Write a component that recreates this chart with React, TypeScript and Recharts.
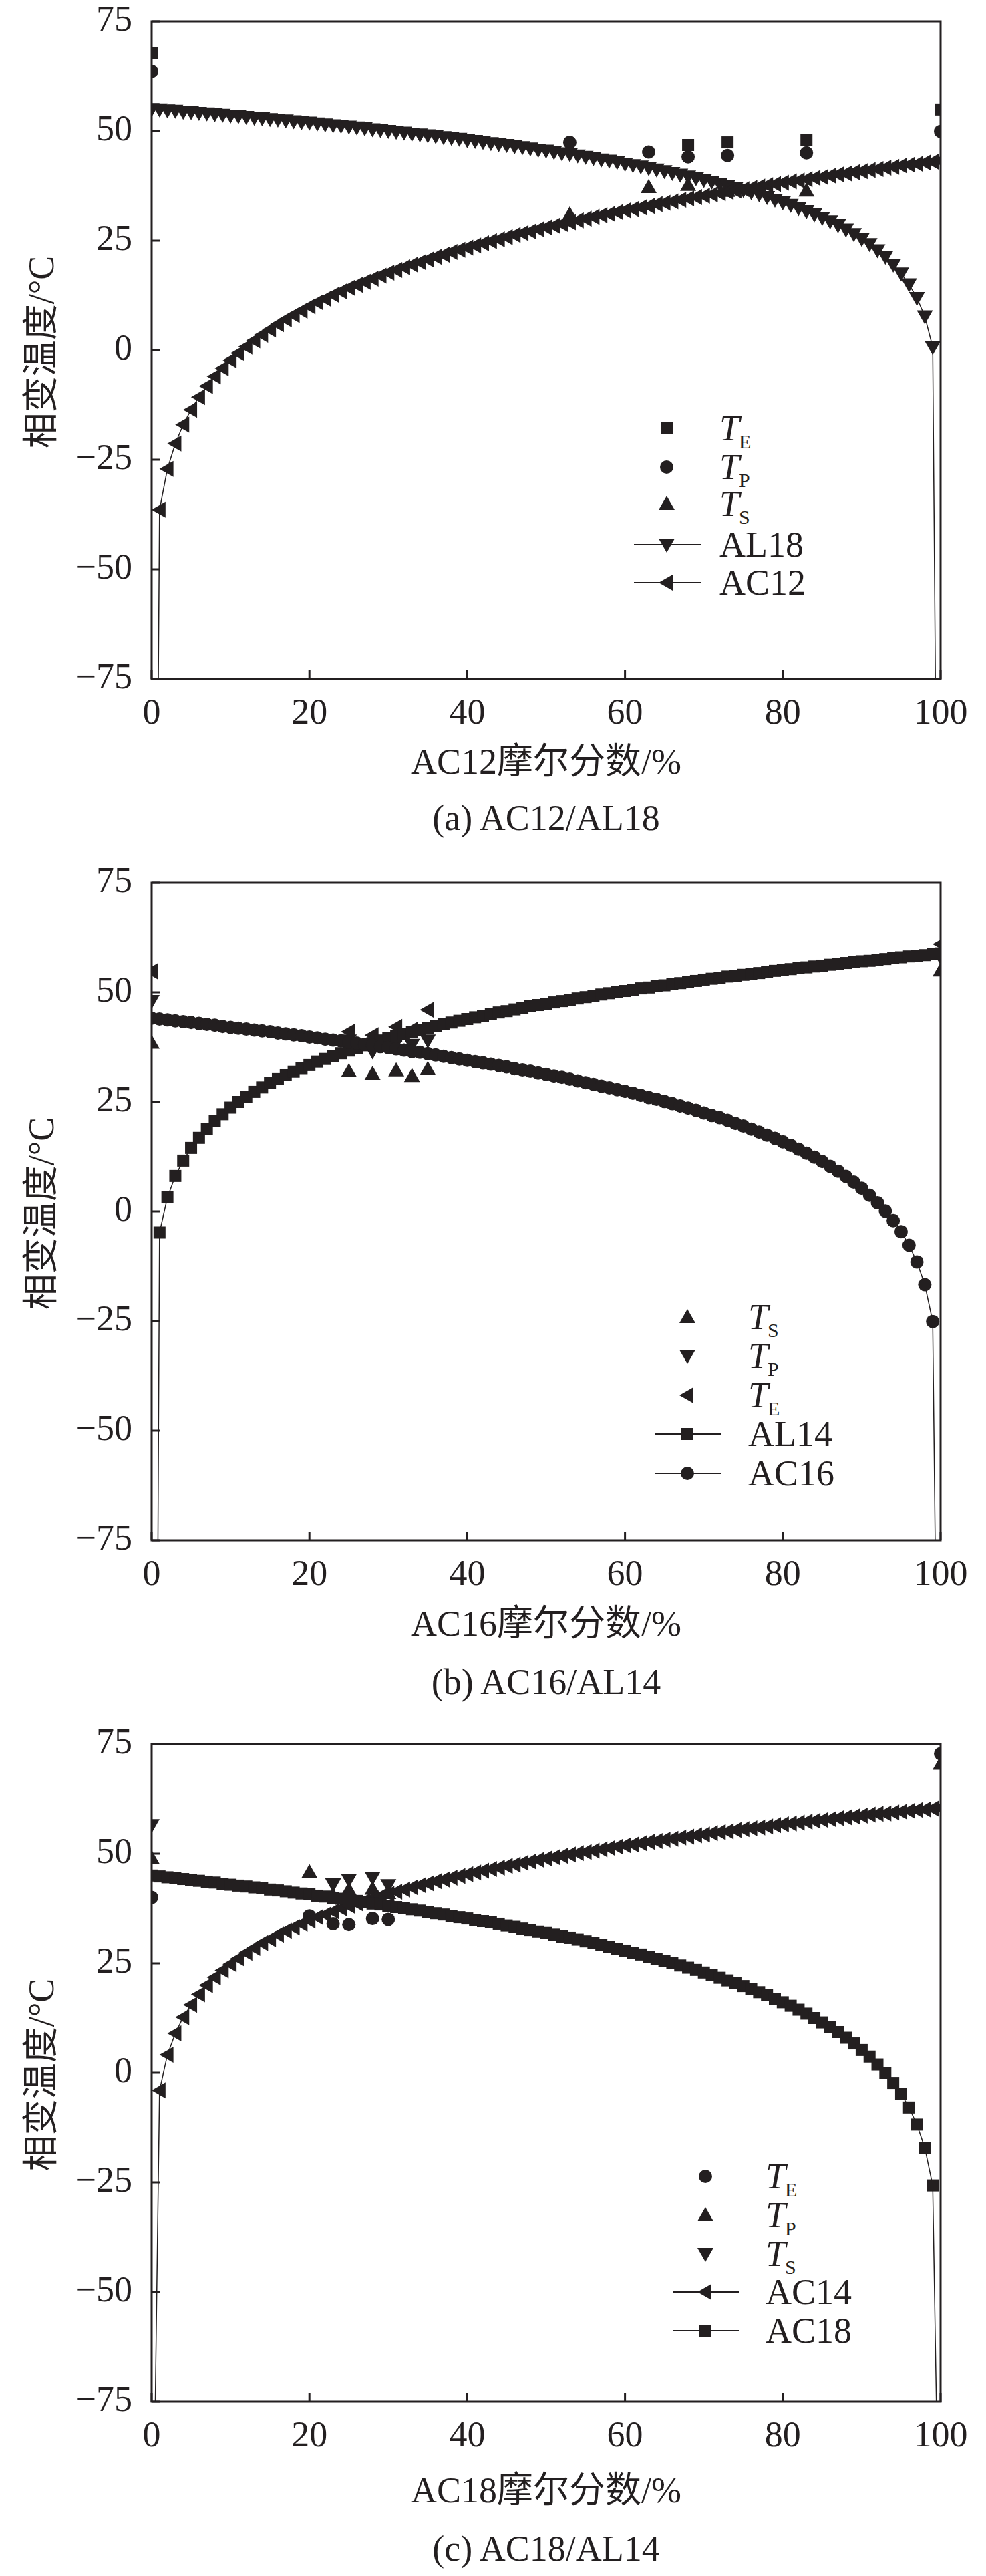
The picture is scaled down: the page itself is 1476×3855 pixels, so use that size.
import React from "react";
import {
  ComposedChart,
  Line,
  Scatter,
  XAxis,
  YAxis,
  ReferenceArea,
  Legend,
} from "recharts";

const INK = "#231f20";
const FONT =
  '"Liberation Serif", "Times New Roman", "Noto Sans CJK SC", serif';

// mole fraction grid, one marker per percent
const PCT = [
  0, 1, 2, 3, 4, 5, 6, 7, 8, 9, 10, 11, 12, 13, 14, 15, 16, 17, 18, 19, 20,
  21, 22, 23, 24, 25, 26, 27, 28, 29, 30, 31, 32, 33, 34, 35, 36, 37, 38, 39,
  40, 41, 42, 43, 44, 45, 46, 47, 48, 49, 50, 51, 52, 53, 54, 55, 56, 57, 58,
  59, 60, 61, 62, 63, 64, 65, 66, 67, 68, 69, 70, 71, 72, 73, 74, 75, 76, 77,
  78, 79, 80, 81, 82, 83, 84, 85, 86, 87, 88, 89, 90, 91, 92, 93, 94, 95, 96,
  97, 98, 99, 100,
];
const X_TICKS = [0, 20, 40, 60, 80, 100];
const Y_TICKS = [-75, -50, -25, 0, 25, 50, 75];

// (a) AC12/AL18
const A_AL18 = [
  55.0, 54.9, 54.7, 54.6, 54.4, 54.3, 54.1, 54.0, 53.8, 53.7,
  53.5, 53.4, 53.2, 53.0, 52.9, 52.7, 52.6, 52.4, 52.2, 52.0,
  51.9, 51.7, 51.5, 51.3, 51.2, 51.0, 50.8, 50.6, 50.4, 50.2,
  50.0, 49.8, 49.6, 49.4, 49.2, 49.0, 48.8, 48.6, 48.4, 48.2,
  47.9, 47.7, 47.5, 47.2, 47.0, 46.8, 46.5, 46.3, 46.0, 45.7,
  45.5, 45.2, 44.9, 44.7, 44.4, 44.1, 43.8, 43.5, 43.2, 42.9,
  42.5, 42.2, 41.9, 41.5, 41.2, 40.8, 40.4, 40.0, 39.6, 39.2,
  38.8, 38.4, 37.9, 37.5, 37.0, 36.5, 36.0, 35.5, 34.9, 34.3,
  33.7, 33.1, 32.4, 31.7, 31.0, 30.2, 29.4, 28.5, 27.5, 26.5,
  25.4, 24.2, 22.8, 21.3, 19.5, 17.5, 15.0, 11.9, 7.7, 0.7,
  null,
];
const A_AC12 = [
  null, -36.4, -27.1, -21.3, -17.0, -13.6, -10.7, -8.2, -6.0, -4.1,
  -2.3, -0.7, 0.8, 2.2, 3.5, 4.7, 5.9, 7.0, 8.0, 9.0,
  10.0, 10.9, 11.7, 12.6, 13.4, 14.2, 14.9, 15.6, 16.3, 17.0,
  17.7, 18.3, 18.9, 19.5, 20.1, 20.7, 21.3, 21.8, 22.4, 22.9,
  23.4, 23.9, 24.4, 24.9, 25.3, 25.8, 26.3, 26.7, 27.1, 27.6,
  28.0, 28.4, 28.8, 29.2, 29.6, 30.0, 30.4, 30.8, 31.1, 31.5,
  31.9, 32.2, 32.6, 32.9, 33.3, 33.6, 33.9, 34.3, 34.6, 34.9,
  35.2, 35.5, 35.8, 36.1, 36.4, 36.7, 37.0, 37.3, 37.6, 37.9,
  38.2, 38.5, 38.7, 39.0, 39.3, 39.5, 39.8, 40.1, 40.3, 40.6,
  40.8, 41.1, 41.3, 41.6, 41.8, 42.1, 42.3, 42.5, 42.8, 43.0,
  43.2,
];
const A_AL18_TAIL = [[99.4, -88]];
const A_AC12_TAIL = [[0.8, -88]];
const A_EXP_X = [0, 53, 63, 68, 73, 83, 100];
const A_TE = [67.7, null, null, 46.8, 47.4, 48.0, 54.9];
const A_TP = [63.6, 47.4, 45.2, 44.1, 44.4, 45.0, 49.9];
const A_TS = [null, 31.0, 37.2, 37.7, 36.3, 36.4, null];

// (b) AC16/AL14
const B_AL14 = [
  null, -4.8, 3.2, 8.1, 11.6, 14.5, 16.8, 18.9, 20.6, 22.2,
  23.7, 25.0, 26.2, 27.3, 28.3, 29.3, 30.2, 31.1, 31.9, 32.7,
  33.4, 34.2, 34.8, 35.5, 36.1, 36.7, 37.3, 37.9, 38.4, 39.0,
  39.5, 40.0, 40.4, 40.9, 41.4, 41.8, 42.3, 42.7, 43.1, 43.5,
  43.9, 44.3, 44.6, 45.0, 45.4, 45.7, 46.1, 46.4, 46.8, 47.1,
  47.4, 47.7, 48.0, 48.3, 48.6, 48.9, 49.2, 49.5, 49.8, 50.1,
  50.3, 50.6, 50.9, 51.1, 51.4, 51.6, 51.9, 52.1, 52.4, 52.6,
  52.9, 53.1, 53.3, 53.6, 53.8, 54.0, 54.2, 54.4, 54.6, 54.9,
  55.1, 55.3, 55.5, 55.7, 55.9, 56.1, 56.3, 56.5, 56.7, 56.9,
  57.1, 57.2, 57.4, 57.6, 57.8, 58.0, 58.2, 58.3, 58.5, 58.7,
  58.9,
];
const B_AC16 = [
  44.1, 43.9, 43.7, 43.5, 43.3, 43.1, 42.9, 42.7, 42.5, 42.2,
  42.0, 41.8, 41.6, 41.4, 41.2, 41.0, 40.7, 40.5, 40.3, 40.1,
  39.8, 39.6, 39.3, 39.1, 38.9, 38.6, 38.4, 38.1, 37.9, 37.6,
  37.4, 37.1, 36.8, 36.5, 36.3, 36.0, 35.7, 35.4, 35.1, 34.8,
  34.5, 34.2, 33.9, 33.6, 33.3, 33.0, 32.6, 32.3, 32.0, 31.6,
  31.3, 30.9, 30.6, 30.2, 29.8, 29.4, 29.0, 28.6, 28.2, 27.8,
  27.4, 27.0, 26.5, 26.0, 25.6, 25.1, 24.6, 24.1, 23.6, 23.1,
  22.5, 21.9, 21.4, 20.8, 20.1, 19.5, 18.8, 18.1, 17.4, 16.7,
  15.9, 15.1, 14.2, 13.3, 12.4, 11.4, 10.3, 9.2, 8.0, 6.7,
  5.3, 3.7, 2.0, 0.1, -2.1, -4.6, -7.7, -11.5, -16.7, -25.1,
  null,
];
const B_AL14_TAIL = [[0.7, -110]];
const B_AC16_TAIL = [[99.5, -105]];
const B_EXP_X = [0, 25, 28, 31, 33, 35, 100];
const B_TS = [38.5, 32.0, 31.4, 32.2, 30.9, 32.5, 55.0];
const B_TP = [48.0, 39.0, 36.5, 38.5, 38.0, 39.0, 58.0];
const B_TE = [54.8, 41.0, 40.2, 42.1, 41.5, 46.0, 61.0];

// (c) AC18/AL14
const C_AC14 = [
  null, -4.0, 4.1, 9.0, 12.7, 15.5, 17.9, 20.0, 21.8, 23.4,
  24.8, 26.1, 27.4, 28.5, 29.6, 30.5, 31.5, 32.4, 33.2, 34.0,
  34.7, 35.5, 36.1, 36.8, 37.5, 38.1, 38.7, 39.2, 39.8, 40.3,
  40.8, 41.3, 41.8, 42.3, 42.8, 43.2, 43.7, 44.1, 44.5, 44.9,
  45.3, 45.7, 46.1, 46.5, 46.8, 47.2, 47.5, 47.9, 48.2, 48.6,
  48.9, 49.2, 49.5, 49.8, 50.1, 50.4, 50.7, 51.0, 51.3, 51.6,
  51.9, 52.1, 52.4, 52.7, 52.9, 53.2, 53.4, 53.7, 53.9, 54.2,
  54.4, 54.7, 54.9, 55.1, 55.4, 55.6, 55.8, 56.0, 56.2, 56.5,
  56.7, 56.9, 57.1, 57.3, 57.5, 57.7, 57.9, 58.1, 58.3, 58.5,
  58.7, 58.9, 59.1, 59.2, 59.4, 59.6, 59.8, 60.0, 60.1, 60.3,
  60.5,
];
const C_AC18 = [
  45.0, 44.8, 44.6, 44.4, 44.2, 44.0, 43.8, 43.6, 43.4, 43.1,
  42.9, 42.7, 42.5, 42.3, 42.1, 41.8, 41.6, 41.4, 41.1, 40.9,
  40.7, 40.4, 40.2, 39.9, 39.7, 39.4, 39.2, 38.9, 38.6, 38.4,
  38.1, 37.8, 37.6, 37.3, 37.0, 36.7, 36.4, 36.1, 35.8, 35.5,
  35.2, 34.9, 34.6, 34.3, 34.0, 33.6, 33.3, 32.9, 32.6, 32.2,
  31.9, 31.5, 31.1, 30.8, 30.4, 30.0, 29.6, 29.2, 28.8, 28.3,
  27.9, 27.4, 27.0, 26.5, 26.0, 25.6, 25.1, 24.5, 24.0, 23.5,
  22.9, 22.3, 21.7, 21.1, 20.5, 19.8, 19.1, 18.4, 17.7, 16.9,
  16.1, 15.3, 14.4, 13.5, 12.5, 11.5, 10.4, 9.3, 8.0, 6.7,
  5.2, 3.7, 1.9, 0.0, -2.3, -4.8, -7.9, -11.8, -17.1, -25.7,
  null,
];
const C_AC14_TAIL = [[0.2, -110]];
const C_AC18_TAIL = [[99.7, -100]];
const C_EXP_X = [0, 20, 23, 25, 28, 30, 100];
const C_TE = [40.0, 35.8, 34.0, 33.8, 35.2, 35.0, 72.8];
const C_TP = [49.0, 45.8, 40.5, 41.8, 42.0, 41.0, 70.5];
const C_TS = [56.5, null, 43.0, 44.0, 44.5, 42.8, null];

// layout (chart coordinates)
const CHART_W = 1460;
const PAGE_H = 3839;
const PLOT_LEFT = 219;
const PLOT_TOP = 60;
const PLOT_W = 1181;
const PLOT_H = 984;
const PLOT_BOTTOM = PLOT_TOP + PLOT_H;
const X_AXIS_H = 60;

type ShapeName = "square" | "circle" | "up" | "down" | "left";

function Marker({ shape, cx, cy }: { shape: ShapeName; cx: number; cy: number }) {
  if (cx == null || cy == null) return <g />;
  switch (shape) {
    case "square":
      return <rect x={cx - 9} y={cy - 9} width={18} height={18} fill={INK} />;
    case "circle":
      return <circle cx={cx} cy={cy} r={10} fill={INK} />;
    case "up":
      return (
        <polygon
          points={`${cx},${cy - 12} ${cx + 12},${cy + 9} ${cx - 12},${cy + 9}`}
          fill={INK}
        />
      );
    case "down":
      return (
        <polygon
          points={`${cx - 12},${cy - 9} ${cx + 12},${cy - 9} ${cx},${cy + 12}`}
          fill={INK}
        />
      );
    default:
      return (
        <polygon
          points={`${cx - 12},${cy} ${cx + 9},${cy - 12} ${cx + 9},${cy + 12}`}
          fill={INK}
        />
      );
  }
}

function curve(values: (number | null)[], tail: number[][]) {
  const pts = PCT.map((x, i) => ({ x, y: values[i], tail: false })).filter(
    (p) => p.y !== null
  );
  tail.forEach(([x, y]) => pts.push({ x, y, tail: true }));
  return pts.sort((a, b) => a.x - b.x);
}

function points(xs: number[], ys: (number | null)[]) {
  return xs
    .map((x, i) => ({ x, y: ys[i] }))
    .filter((p) => p.y !== null);
}

const fmt = (v: number) => (v < 0 ? `\u2212${-v}` : `${v}`);

function XTick(props: any) {
  const { x, y, payload } = props;
  return (
    <g>
      <line x1={x} y1={y} x2={x} y2={y - 13} stroke={INK} strokeWidth={3} />
      <text x={x} y={y + 67} textAnchor="middle" fontSize={54} fontFamily={FONT} fill={INK}>
        {fmt(payload.value)}
      </text>
    </g>
  );
}

function YTick(props: any) {
  const { x, y, payload } = props;
  return (
    <g>
      <line x1={x} y1={y} x2={x + 13} y2={y} stroke={INK} strokeWidth={3} />
      <text x={x - 29} y={y + 14} textAnchor="end" fontSize={54} fontFamily={FONT} fill={INK}>
        {fmt(payload.value)}
      </text>
    </g>
  );
}

type LegendItem = { shape: ShapeName; line: boolean; main: string; sub?: string };

function LegendBox({
  items,
  rows,
  textDx,
}: {
  items: LegendItem[];
  rows: number[];
  textDx: number;
}) {
  const ox = 70;
  const oy = 30;
  return (
    <svg width={460} height={320} style={{ overflow: "visible", display: "block" }}>
      {items.map((it, i) => {
        const cy = oy + rows[i];
        return (
          <g key={i}>
            {it.line && (
              <line x1={ox - 49} y1={cy} x2={ox + 51} y2={cy} stroke={INK} strokeWidth={2} />
            )}
            <Marker shape={it.shape} cx={ox} cy={cy} />
            {it.sub ? (
              <text x={ox + textDx} y={cy + 18} fontSize={54} fontFamily={FONT} fill={INK}>
                <tspan fontStyle="italic">{it.main}</tspan>
                <tspan fontSize={30} dx={-1} dy={12}>
                  {it.sub}
                </tspan>
              </text>
            ) : (
              <text x={ox + textDx} y={cy + 18} fontSize={54} fontFamily={FONT} fill={INK}>
                {it.main}
              </text>
            )}
          </g>
        );
      })}
    </svg>
  );
}

const PANELS = [
  {
    top: -36,
    height: 1290,
    xTitle: "AC12摩尔分数/%",
    caption: "(a) AC12/AL18",
    titleDy: 124,
    captionDy: 208,
    curves: [
      { key: "AL18", shape: "down" as ShapeName, data: curve(A_AL18, A_AL18_TAIL) },
      { key: "AC12", shape: "left" as ShapeName, data: curve(A_AC12, A_AC12_TAIL) },
    ],
    exp: [
      { key: "TS", shape: "up" as ShapeName, data: points(A_EXP_X, A_TS) },
      { key: "TP", shape: "circle" as ShapeName, data: points(A_EXP_X, A_TP) },
      { key: "TE", shape: "square" as ShapeName, data: points(A_EXP_X, A_TE) },
    ],
    legend: {
      x: 990,
      y: 609,
      textDx: 79,
      rows: [0, 58, 113, 174, 231],
      items: [
        { shape: "square", line: false, main: "T", sub: "E" },
        { shape: "circle", line: false, main: "T", sub: "P" },
        { shape: "up", line: false, main: "T", sub: "S" },
        { shape: "down", line: true, main: "AL18" },
        { shape: "left", line: true, main: "AC12" },
      ] as LegendItem[],
    },
  },
  {
    top: 1253,
    height: 1290,
    xTitle: "AC16摩尔分数/%",
    caption: "(b) AC16/AL14",
    titleDy: 125,
    captionDy: 212,
    curves: [
      { key: "AL14", shape: "square" as ShapeName, data: curve(B_AL14, B_AL14_TAIL) },
      { key: "AC16", shape: "circle" as ShapeName, data: curve(B_AC16, B_AC16_TAIL) },
    ],
    exp: [
      { key: "TS", shape: "up" as ShapeName, data: points(B_EXP_X, B_TS) },
      { key: "TP", shape: "down" as ShapeName, data: points(B_EXP_X, B_TP) },
      { key: "TE", shape: "left" as ShapeName, data: points(B_EXP_X, B_TE) },
    ],
    legend: {
      x: 1021,
      y: 650,
      textDx: 91,
      rows: [0, 58, 117, 175, 234],
      items: [
        { shape: "up", line: false, main: "T", sub: "S" },
        { shape: "down", line: false, main: "T", sub: "P" },
        { shape: "left", line: false, main: "T", sub: "E" },
        { shape: "square", line: true, main: "AL14" },
        { shape: "circle", line: true, main: "AC16" },
      ] as LegendItem[],
    },
  },
  {
    top: 2542,
    height: 1297,
    xTitle: "AC18摩尔分数/%",
    caption: "(c) AC18/AL14",
    titleDy: 133,
    captionDy: 220,
    curves: [
      { key: "AC14", shape: "left" as ShapeName, data: curve(C_AC14, C_AC14_TAIL) },
      { key: "AC18", shape: "square" as ShapeName, data: curve(C_AC18, C_AC18_TAIL) },
    ],
    exp: [
      { key: "TE", shape: "circle" as ShapeName, data: points(C_EXP_X, C_TE) },
      { key: "TP", shape: "up" as ShapeName, data: points(C_EXP_X, C_TP) },
      { key: "TS", shape: "down" as ShapeName, data: points(C_EXP_X, C_TS) },
    ],
    legend: {
      x: 1048,
      y: 647,
      textDx: 90,
      rows: [0, 58, 116, 173, 231],
      items: [
        { shape: "circle", line: false, main: "T", sub: "E" },
        { shape: "up", line: false, main: "T", sub: "P" },
        { shape: "down", line: false, main: "T", sub: "S" },
        { shape: "left", line: true, main: "AC14" },
        { shape: "square", line: true, main: "AC18" },
      ] as LegendItem[],
    },
  },
];

function Panel({ cfg }: { cfg: (typeof PANELS)[number] }) {
  const midX = PLOT_LEFT + PLOT_W / 2;
  const yMid = PLOT_TOP + PLOT_H / 2 + 3;
  return (
    <ComposedChart
      width={CHART_W}
      height={cfg.height}
      margin={{
        top: PLOT_TOP,
        right: CHART_W - PLOT_LEFT - PLOT_W,
        bottom: cfg.height - PLOT_BOTTOM - X_AXIS_H,
        left: PLOT_LEFT - 100,
      }}
    >
      <XAxis
        type="number"
        dataKey="x"
        domain={[0, 100]}
        ticks={X_TICKS}
        interval={0}
        allowDataOverflow
        axisLine={false}
        tickLine={false}
        tickSize={0}
        tickMargin={0}
        height={X_AXIS_H}
        tick={(p: any) => <XTick {...p} />}
        label={{
          content: () => (
            <g>
              <text
                x={midX}
                y={PLOT_BOTTOM + cfg.titleDy + 18}
                textAnchor="middle"
                fontSize={54}
                fontFamily={FONT}
                fill={INK}
              >
                {cfg.xTitle}
              </text>
              <text
                x={midX}
                y={PLOT_BOTTOM + cfg.captionDy + 18}
                textAnchor="middle"
                fontSize={54}
                fontFamily={FONT}
                fill={INK}
              >
                {cfg.caption}
              </text>
            </g>
          ),
        }}
      />
      <YAxis
        type="number"
        dataKey="y"
        domain={[-75, 75]}
        ticks={Y_TICKS}
        interval={0}
        allowDataOverflow
        axisLine={false}
        tickLine={false}
        tickSize={0}
        tickMargin={0}
        width={100}
        tick={(p: any) => <YTick {...p} />}
        label={{
          content: () => (
            <text
              x={54}
              y={yMid}
              transform={`rotate(-90 54 ${yMid})`}
              textAnchor="middle"
              dominantBaseline="central"
              fontSize={54}
              fontFamily={FONT}
              fill={INK}
            >
              相变温度/°C
            </text>
          ),
        }}
      />
      {cfg.curves.map((c) => (
        <Line
          key={c.key}
          data={c.data}
          dataKey="y"
          type="linear"
          stroke={INK}
          strokeWidth={1.5}
          isAnimationActive={false}
          activeDot={false}
          legendType="none"
          dot={(p: any) =>
            p.payload && p.payload.tail ? (
              <g key={`t-${c.key}-${p.index}`} />
            ) : (
              <Marker key={`d-${c.key}-${p.index}`} shape={c.shape} cx={p.cx} cy={p.cy} />
            )
          }
        />
      ))}
      {cfg.exp.map((s) => (
        <Scatter
          key={s.key}
          data={s.data}
          dataKey="y"
          isAnimationActive={false}
          legendType="none"
          shape={(p: any) => <Marker shape={s.shape} cx={p.cx} cy={p.cy} />}
        />
      ))}
      <ReferenceArea
        x1={0}
        x2={100}
        y1={-75}
        y2={75}
        fill="none"
        fillOpacity={0}
        stroke={INK}
        strokeWidth={3}
        ifOverflow="visible"
      />
      <Legend
        layout="horizontal"
        verticalAlign="middle"
        align="center"
        wrapperStyle={{
          left: cfg.legend.x - 70,
          top: PLOT_TOP + cfg.legend.y - 30,
          width: 460,
          height: 320,
        }}
        content={() => (
          <LegendBox
            items={cfg.legend.items}
            rows={cfg.legend.rows}
            textDx={cfg.legend.textDx}
          />
        )}
      />
    </ComposedChart>
  );
}

export default function App() {
  return (
    <div style={{ position: "relative", width: CHART_W, height: PAGE_H, background: "#fff" }}>
      {PANELS.map((cfg, i) => (
        <div key={i} style={{ position: "absolute", left: 0, top: cfg.top }}>
          <Panel cfg={cfg} />
        </div>
      ))}
    </div>
  );
}
